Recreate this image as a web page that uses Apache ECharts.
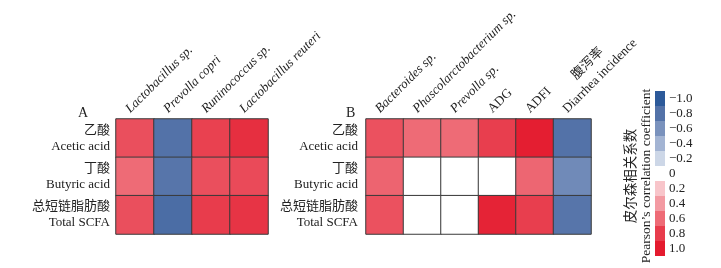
<!DOCTYPE html>
<html>
<head>
<meta charset="utf-8">
<script src="https://cdn.jsdelivr.net/npm/echarts@6/dist/echarts.min.js"></script>
<style>
  html, body { margin: 0; padding: 0; background: #fff; }
  #chart { width: 721px; height: 268px; }
</style>
</head>
<body>
<div id="chart"></div>
<script>
// rows shared by both panels
const rowNames = ['乙酸\nAcetic acid', '丁酸\nButyric acid', '总短链脂肪酸\nTotal SCFA']

// panel A
const colsA = ['Lactobacillus sp.', 'Prevolla copri', 'Runinococcus sp.', 'Lactobacillus reuteri']
const valuesA = [
  [0.72, -0.80, 0.78, 0.88],
  [0.60, -0.78, 0.72, 0.74],
  [0.72, -0.84, 0.80, 0.85]
]

// panel B
const colsB = ['Bacteroides sp.', 'Phascolarctobacterium sp.', 'Prevolla sp.', 'ADG', 'ADFI', '腹泻率\nDiarrhea incidence']
const italicNames = ['Lactobacillus sp.', 'Prevolla copri', 'Runinococcus sp.', 'Lactobacillus reuteri',
  'Bacteroides sp.', 'Phascolarctobacterium sp.', 'Prevolla sp.']
const valuesB = [
  [0.71, 0.60, 0.60, 0.79, 0.98, -0.80],
  [0.63, 0, 0, 0, 0.62, -0.65],
  [0.71, 0, 0, 0.95, 0.79, -0.78]
]

// legend scale
const legendLevels = [-1.0, -0.8, -0.6, -0.4, -0.2, 0, 0.2, 0.4, 0.6, 0.8, 1.0]
const legendColors = ['#2d5a9a', '#5372a8', '#7a92bd', '#a3b4d3', '#cdd7e7', '#ffffff',
  '#f8c5ca', '#f39aa2', '#ee6b76', '#e83c4c', '#e41b2e']

const FONT = "'Liberation Serif', 'Noto Sans CJK SC', serif"

function toCells (values) {
  let out = []
  values.forEach(function (row, r) {
    row.forEach(function (v, c) {
      out.push([c, r, v])
    })
  })
  return out
}

function fmtLevel (v) {
  if (v === 0) return '0'
  return (v < 0 ? '\u2212' : '') + Math.abs(v).toFixed(1)
}

function xLabel (v) {
  let parts = v.split('\n')
  if (parts.length === 2) {
    // chinese line centred above the english one, blank line keeps english on the anchor
    return '{c|' + parts[0] + '}\n{e|' + parts[1] + '}\n{s| }'
  }
  return italicNames.indexOf(v) >= 0 ? '{i|' + v + '}' : '{n|' + v + '}'
}

let grids = [
  { left: 116, top: 119, width: 152, height: 115 },
  { left: 366, top: 119, width: 225, height: 115 }
]

let xAxes = [colsA, colsB].map(function (cols, i) {
  return {
    type: 'category',
    gridIndex: i,
    position: 'top',
    data: cols,
    axisLine: { show: false },
    axisTick: { show: false },
    splitLine: { show: false },
    axisLabel: {
      interval: 0,
      rotate: -45,
      margin: 1,
      padding: [0, 0, 20, 0],
      formatter: xLabel,
      rich: {
        i: { fontFamily: FONT, fontSize: 13, fontStyle: 'italic', color: '#222' },
        n: { fontFamily: FONT, fontSize: 13, color: '#222' },
        c: { fontFamily: FONT, fontSize: 13, color: '#222', lineHeight: 20, align: 'center' },
        e: { fontFamily: FONT, fontSize: 13, color: '#222', lineHeight: 15 },
        s: { fontFamily: FONT, fontSize: 13, lineHeight: 20 }
      }
    }
  }
})

let yAxes = [0, 1].map(function (i) {
  return {
    type: 'category',
    gridIndex: i,
    inverse: true,
    data: rowNames,
    axisLine: { show: false },
    axisTick: { show: false },
    splitLine: { show: false },
    axisLabel: {
      margin: i === 0 ? 6 : 8,
      fontFamily: FONT,
      fontSize: 13,
      lineHeight: 16,
      color: '#222',
      align: 'right'
    }
  }
})

let option = {
  backgroundColor: '#fff',
  animation: false,
  title: [
    { text: 'A', left: 73, top: 101, textStyle: { fontFamily: FONT, fontSize: 14, fontWeight: 'normal', color: '#222' } },
    { text: 'B', left: 341, top: 101, textStyle: { fontFamily: FONT, fontSize: 14, fontWeight: 'normal', color: '#222' } }
  ],
  grid: grids,
  xAxis: xAxes,
  yAxis: yAxes,
  visualMap: [
    {
      type: 'continuous',
      show: false,
      min: -1,
      max: 1,
      seriesIndex: [0, 1],
      inRange: { color: legendColors }
    },
    {
      type: 'piecewise',
      seriesIndex: [2],
      orient: 'vertical',
      inverse: true,
      align: 'left',
      left: 655,
      top: 91,
      padding: 0,
      itemWidth: 10,
      itemHeight: 15,
      itemGap: 0,
      itemSymbol: 'rect',
      textGap: 4,
      selectedMode: false,
      textStyle: { fontFamily: FONT, fontSize: 13, color: '#222' },
      pieces: legendLevels.map(function (v, i) {
        return { min: v - 0.1, max: v + 0.1, label: fmtLevel(v), color: legendColors[i] }
      })
    }
  ],
  graphic: [
    {
      type: 'text',
      x: 639,
      y: 176,
      rotation: Math.PI / 2,
      style: {
        text: '皮尔森相关系数\nPearson\u2019s correlation coefficient',
        fontFamily: FONT,
        fontSize: 13.5,
        lineHeight: 15,
        fill: '#222',
        align: 'center',
        verticalAlign: 'middle'
      }
    }
  ],
  series: [
    {
      type: 'heatmap',
      xAxisIndex: 0,
      yAxisIndex: 0,
      data: toCells(valuesA),
      itemStyle: { borderColor: '#3a3a3a', borderWidth: 1 },
      emphasis: { disabled: true }
    },
    {
      type: 'heatmap',
      xAxisIndex: 1,
      yAxisIndex: 1,
      data: toCells(valuesB),
      itemStyle: { borderColor: '#3a3a3a', borderWidth: 1 },
      emphasis: { disabled: true }
    },
    {
      type: 'line',
      xAxisIndex: 0,
      yAxisIndex: 0,
      data: [],
      silent: true
    }
  ]
}

let myChart = echarts.init(document.getElementById('chart'))
myChart.setOption(option, true)
</script>
</body>
</html>
